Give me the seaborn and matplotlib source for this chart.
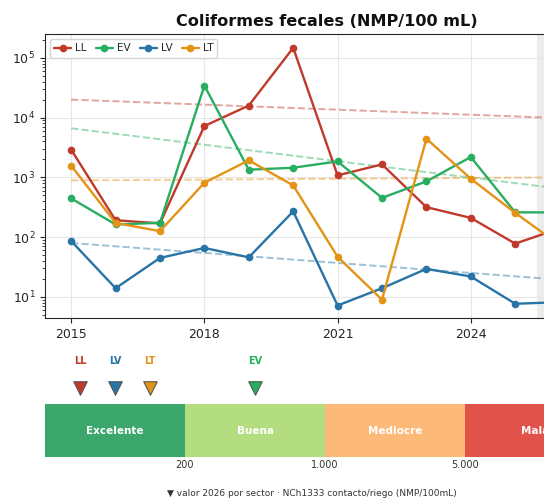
import numpy as np
import pandas as pd
import matplotlib
matplotlib.use("Agg")
import matplotlib.pyplot as plt
import seaborn as sns

# Series per sector (NMP/100 mL)
years = list(range(2015, 2027))
sectors = ["LL", "EV", "LV", "LT"]
ll = [2900, 192, 170, 7230, 15900, 147000, 1080, 1650, 318, 210, 78, 140]
ev = [445, 163, 174, 34300, 1345, 1450, 1850, 454, 857, 2190, 260, 260]
lv = [86, 14, 45, 66, 46, 270, 7.2, 14, 29.5, 22, 7.7, 8.2]
lt = [1570, 173, 126, 815, 1925, 735, 47, 9, 4440, 950, 255, 74]

# dashed trend lines, start (2015) and end (2026) values
trendYears = [2015, 2026]
trendLL = [20000, 9800]
trendEV = [6620, 650]
trendLV = [80, 19.5]
trendLT = [890, 1000]

colors = {"LL": "#c0392b", "EV": "#27ae60", "LV": "#2874a6", "LT": "#e39316"}

# NCh1333 quality classes
classNames = ["Excelente", "Buena", "Mediocre", "Mala"]
classColors = ["#3ba76b", "#b4dd7f", "#fdb978", "#e0524a"]
classLimits = [200, 1000, 5000]
limitLabels = ["200", "1.000", "5.000"]

sns.set_style("ticks", {"axes.grid": True, "grid.color": "#e6e6e6"})

df = pd.DataFrame({"year": years * 4,
                   "sector": np.repeat(sectors, len(years)),
                   "value": ll + ev + lv + lt})

fig = plt.figure(figsize=(5.44, 5.04), dpi=100)
W, H = 544, 504
ax = fig.add_axes([45 / W, 1 - 318 / H, 563 / W, 284 / H])

ax.axvspan(2025.5, 2027.5, color="#ececec", zorder=0, lw=0)

trends = {"LL": trendLL, "EV": trendEV, "LV": trendLV, "LT": trendLT}
for s in sectors:
    ax.plot(trendYears, trends[s], ls="--", color=colors[s], alpha=0.45, lw=1.4, zorder=1)

sns.lineplot(data=df, x="year", y="value", hue="sector", palette=colors,
             marker="o", markersize=5.5, markeredgewidth=0, linewidth=1.7,
             ax=ax, zorder=3)

ax.set_yscale("log")
ax.set_ylim(4.45, 2.5e5)
ax.set_xlim(2014.41, 2027.09)
ax.set_xticks([2015, 2018, 2021, 2024, 2026])
ax.tick_params(labelsize=9)
ax.set_xlabel("")
ax.set_ylabel("")
ax.grid(True, which="major", color="#e6e6e6", lw=0.8)
ax.set_title("Coliformes fecales (NMP/100 mL)", fontsize=11.6, fontweight="bold",
             color="#111111")
ax.legend(loc="upper left", ncol=4, fontsize=7.5, handlelength=1.6,
          columnspacing=0.9, handletextpad=0.4, borderpad=0.4, frameon=True)

# quality class band with 2026 markers
bx = fig.add_axes([45 / W, 1 - 457 / H, 560 / W, 53 / H])
bx.bar([i + 0.5 for i in range(4)], [1] * 4, width=1, color=classColors, lw=0)
for i, name in enumerate(classNames):
    bx.text(i + 0.5, 0.5, name, ha="center", va="center", color="white",
            fontsize=7.5, fontweight="bold")
bx.set_xlim(0, 4)
bx.set_ylim(0, 1)
bx.set_xticks([1, 2, 3], limitLabels)
bx.set_yticks([])
bx.tick_params(axis="x", length=0, labelsize=7, pad=2, colors="#333333")
bx.grid(False)
for sp in bx.spines.values():
    sp.set_visible(False)

last = {s: df[(df.sector == s) & (df.year == 2026)].value.iloc[0] for s in sectors}
cats = {s: int(np.searchsorted(classLimits, last[s])) for s in sectors}
for c in range(4):
    members = [s for s in sectors if cats[s] == c]
    for j, s in enumerate(members):
        xpos = c + (j + 1) / (len(members) + 1)
        bx.scatter([xpos], [1.30], marker="v", s=95, color=colors[s],
                   edgecolor="#555555", linewidth=0.8, clip_on=False, zorder=4)
        bx.text(xpos, 1.81, s, ha="center", va="center", color=colors[s],
                fontsize=7, fontweight="bold", clip_on=False)

fig.text(312 / W, 1 - 493 / H,
         "\u25bc valor 2026 por sector \u00b7 NCh1333 contacto/riego (NMP/100mL)",
         ha="center", va="center", fontsize=6.5, color="#333333")

fig.savefig("out.png", dpi=100)
